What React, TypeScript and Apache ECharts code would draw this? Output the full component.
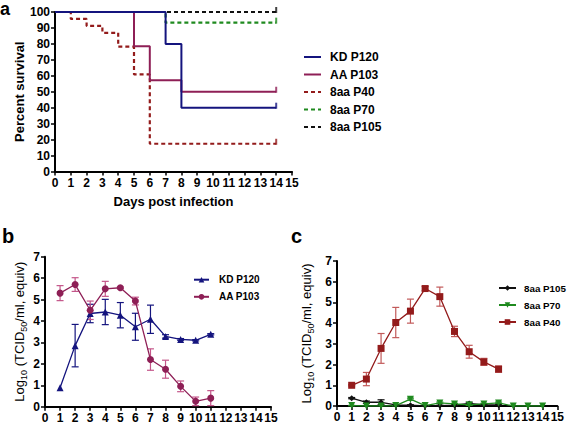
import React, { useEffect, useRef } from "react";
import * as echarts from "echarts";

const FONT = '"Liberation Sans", Arial, Helvetica, sans-serif';

// ---------- Panel a: survival ----------
const survKD: [number, number][] = [[0, 100], [7, 80], [8, 40], [14, 40]];
const survAA: [number, number][] = [[0, 100], [5, 78.57], [6, 57.14], [8, 50], [14, 50]];
const survP40: [number, number][] = [[0, 100], [1, 95.65], [2, 91.3], [3, 86.96], [4, 78.26], [5, 60.87], [6, 17.39], [14, 17.39]];
const survP70: [number, number][] = [[0, 100], [7, 93.33], [14, 93.33]];
const survP105: [number, number][] = [[0, 100], [14, 100]];

// ---------- Panel b ----------
const daysB = [1, 2, 3, 4, 5, 6, 7, 8, 9, 10, 11];
const kdMean = [0.88, 2.85, 4.35, 4.42, 4.27, 3.73, 4.08, 3.28, 3.14, 3.1, 3.38];
const kdSem = [0, 0.99, 0.43, 0.59, 0.59, 0.63, 0.66, 0.08, 0.04, 0.03, 0.03];
const aaMean = [5.3, 5.7, 4.5, 5.5, 5.55, 4.93, 2.2, 1.75, 0.95, 0.25, 0.4];
const aaSem = [0.35, 0.32, 0.43, 0.35, 0.04, 0.18, 0.5, 0.42, 0.25, 0.2, 0.35];

// ---------- Panel c ----------
const daysC40 = [1, 2, 3, 4, 5, 6, 7, 8, 9, 10, 11];
const p40Mean = [1.0, 1.3, 2.78, 4.03, 4.58, 5.67, 5.28, 3.6, 2.62, 2.13, 1.78];
const p40Sem = [0.03, 0.32, 0.72, 0.73, 0.58, 0.1, 0.46, 0.25, 0.31, 0.17, 0.15];
const daysC105 = [1, 2, 3, 4, 5, 6, 7, 8, 9, 10, 11];
const p105Mean = [0.38, 0.18, 0.18, 0.05, 0.04, 0.01, 0.02, 0.04, 0.12, 0.05, 0.05];
const p105Sem = [0.03, 0.06, 0.12, 0.02, 0.02, 0.01, 0.01, 0.02, 0.06, 0.02, 0.02];
const daysC70 = [1, 2, 3, 4, 5, 6, 7, 8, 9, 10, 11, 12, 13, 14];
const p70Mean = [0.02, 0.0, 0.0, 0.02, 0.33, 0.02, 0.15, 0.1, 0.05, 0.1, 0.15, 0.0, 0.0, 0.0];
const p70Sem = [0.01, 0.0, 0.0, 0.01, 0.05, 0.01, 0.04, 0.03, 0.02, 0.03, 0.04, 0.0, 0.0, 0.0];

const C_KD = "#14147e";
const C_AA = "#8e1f56";
const C_AA_ERR = "#c4568a";
const C_P40 = "#931b1b";
const C_P40_ERR = "#c25a5a";
const C_P70 = "#1f8a1f";
const C_P105 = "#111111";

const zip = (xs: number[], ys: number[]) => xs.map((x, i) => [x, ys[i]]);
const errData = (xs: number[], m: number[], e: number[]) =>
  xs.map((x, i) => [x, m[i] - e[i], m[i] + e[i]]).filter((d, i) => e[i] > 0);

function errSeries(name: string, xs: number[], m: number[], e: number[], color: string, gi: number) {
  return {
    type: "custom",
    name,
    xAxisIndex: gi,
    yAxisIndex: gi,
    z: 1,
    data: errData(xs, m, e),
    encode: { x: 0, y: [1, 2] },
    renderItem: (params: any, api: any) => {
      const x = api.value(0);
      const p1 = api.coord([x, api.value(1)]);
      const p2 = api.coord([x, api.value(2)]);
      const w = 3.5;
      const st = { stroke: color, lineWidth: 1.2 };
      return {
        type: "group",
        children: [
          { type: "line", shape: { x1: p1[0], y1: p1[1], x2: p2[0], y2: p2[1] }, style: st },
          { type: "line", shape: { x1: p1[0] - w, y1: p1[1], x2: p1[0] + w, y2: p1[1] }, style: st },
          { type: "line", shape: { x1: p2[0] - w, y1: p2[1], x2: p2[0] + w, y2: p2[1] }, style: st },
        ],
      };
    },
  };
}

function survSeries(name: string, data: [number, number][], color: string, dashed: boolean) {
  return {
    type: "line",
    name,
    xAxisIndex: 0,
    yAxisIndex: 0,
    data,
    step: "end",
    symbol: "none",
    lineStyle: { color, width: dashed ? 2.2 : 2, type: dashed ? [4, 3] : "solid" },
    itemStyle: { color },
    z: 2,
  };
}

function censorSeries(data: [number, number][], color: string) {
  const last = data[data.length - 1];
  return {
    type: "scatter",
    name: "censor",
    xAxisIndex: 0,
    yAxisIndex: 0,
    data: [last],
    symbol: "rect",
    symbolSize: [2, 6],
    symbolOffset: [0, -2],
    itemStyle: { color },
    z: 3,
  };
}

function meanSeries(name: string, xs: number[], m: number[], color: string, symbol: string, size: number, gi: number, rotate = 0) {
  return {
    type: "line",
    name,
    xAxisIndex: gi,
    yAxisIndex: gi,
    data: zip(xs, m),
    symbol,
    symbolSize: size,
    symbolRotate: rotate,
    showAllSymbol: true,
    lineStyle: { color, width: 1.3 },
    itemStyle: { color },
    z: 2,
  };
}

const tickLabel = { color: "#000", fontWeight: "bold", fontSize: 12, fontFamily: FONT };
const axisLine = { show: true, lineStyle: { color: "#000", width: 2 } };
const axisTick = { show: true, inside: false, length: 4, lineStyle: { color: "#000", width: 1.5 } };

function xAx(gi: number, extra: any = {}) {
  return {
    type: "value",
    gridIndex: gi,
    min: 0,
    max: 15,
    interval: 1,
    axisLine,
    axisTick,
    axisLabel: { ...tickLabel, margin: 5 },
    splitLine: { show: false },
    ...extra,
  };
}

function yAx(gi: number, max: number, interval: number, extra: any = {}) {
  return {
    type: "value",
    gridIndex: gi,
    min: 0,
    max,
    interval,
    axisLine,
    axisTick,
    axisLabel: { ...tickLabel, margin: 5 },
    splitLine: { show: false },
    ...extra,
  };
}

const logName = "Log{sub|10} (TCID{sub|50}/ml, equiv)";
const logNameStyle = {
  color: "#000",
  fontSize: 13,
  fontFamily: FONT,
  lineHeight: 18,
  rich: { sub: { fontSize: 9, lineHeight: 10, verticalAlign: "bottom", fontFamily: FONT, color: "#000" } },
};

export default function App() {
  const ref = useRef<HTMLDivElement>(null);
  useEffect(() => {
    if (!ref.current) return;
    const chart = echarts.init(ref.current, undefined, { renderer: "svg" });
    const option: any = {
      animation: false,
      backgroundColor: "#fff",
      grid: [
        { left: 55, top: 12, width: 237, height: 159.5 },
        { left: 45, top: 256.7, width: 226, height: 150 },
        { left: 337, top: 261, width: 223, height: 145 },
      ],
      xAxis: [
        xAx(0, {
          name: "Days post infection",
          nameLocation: "middle",
          nameGap: 23,
          nameTextStyle: { color: "#000", fontWeight: "bold", fontSize: 13, fontFamily: FONT },
        }),
        xAx(1),
        xAx(2),
      ],
      yAxis: [
        yAx(0, 100, 10, {
          name: "Percent survival",
          nameLocation: "middle",
          nameGap: 27,
          nameTextStyle: { color: "#000", fontWeight: "bold", fontSize: 13, fontFamily: FONT },
        }),
        yAx(1, 7, 1, { name: logName, nameLocation: "middle", nameGap: 17, nameTextStyle: logNameStyle }),
        yAx(2, 7, 1, { name: logName, nameLocation: "middle", nameGap: 22, nameTextStyle: logNameStyle }),
      ],
      legend: [
        {
          data: ["KD P120", "AA P103", "8aa P40", "8aa P70", "8aa P105"],
          orient: "vertical",
          left: 298,
          top: 46,
          itemWidth: 17,
          itemHeight: 14,
          itemGap: 5.5,
          selectedMode: false,
          itemStyle: { opacity: 0 },
          textStyle: { color: "#000", fontWeight: "bold", fontSize: 12, fontFamily: FONT, padding: [0, 0, 0, 4] },
        },
        {
          data: ["b:KD P120", "b:AA P103"],
          orient: "vertical",
          left: 188,
          top: 269.7,
          itemWidth: 15,
          itemHeight: 7,
          itemGap: 7.1,
          selectedMode: false,
          formatter: (n: string) => n.replace(/^[bc]:/, ""),
          textStyle: { color: "#000", fontWeight: "bold", fontSize: 10, fontFamily: FONT, padding: [0, 0, 0, 5] },
        },
        {
          data: ["c:8aa P105", "c:8aa P70", "c:8aa P40"],
          orient: "vertical",
          left: 493,
          top: 278,
          itemWidth: 17,
          itemHeight: 7,
          itemGap: 7,
          selectedMode: false,
          formatter: (n: string) => n.replace(/^[bc]:/, ""),
          textStyle: { color: "#000", fontWeight: "bold", fontSize: 9.8, fontFamily: FONT, padding: [0, 0, 0, 3] },
        },
      ],
      graphic: [
        { type: "text", x: 0, y: 8.5, style: { text: "a", fontSize: 18, fontWeight: "bold", fontFamily: FONT, fill: "#000", verticalAlign: "middle" } },
        { type: "text", x: 2, y: 236, style: { text: "b", fontSize: 20, fontWeight: "bold", fontFamily: FONT, fill: "#000", verticalAlign: "middle" } },
        { type: "text", x: 291, y: 236, style: { text: "c", fontSize: 20, fontWeight: "bold", fontFamily: FONT, fill: "#000", verticalAlign: "middle" } },
      ],
      series: [
        survSeries("8aa P105", survP105, C_P105, true),
        survSeries("8aa P70", survP70, C_P70, true),
        survSeries("8aa P40", survP40, C_P40, true),
        survSeries("AA P103", survAA, C_AA, false),
        survSeries("KD P120", survKD, C_KD, false),
        censorSeries(survP105, C_P105),
        censorSeries(survP70, C_P70),
        censorSeries(survP40, C_P40),
        censorSeries(survAA, C_AA),
        censorSeries(survKD, C_KD),

        errSeries("errKD", daysB, kdMean, kdSem, C_KD, 1),
        errSeries("errAA", daysB, aaMean, aaSem, C_AA_ERR, 1),
        meanSeries("b:KD P120", daysB, kdMean, C_KD, "triangle", 7, 1),
        meanSeries("b:AA P103", daysB, aaMean, C_AA, "circle", 7, 1),

        errSeries("err105", daysC105, p105Mean, p105Sem, C_P105, 2),
        errSeries("err70", daysC70, p70Mean, p70Sem, C_P70, 2),
        errSeries("err40", daysC40, p40Mean, p40Sem, C_P40_ERR, 2),
        meanSeries("c:8aa P105", daysC105, p105Mean, C_P105, "diamond", 6, 2),
        meanSeries("c:8aa P70", daysC70, p70Mean, C_P70, "triangle", 7, 2, 180),
        meanSeries("c:8aa P40", daysC40, p40Mean, C_P40, "rect", 7, 2),
      ],
    };
    chart.setOption(option);
    return () => chart.dispose();
  }, []);
  return <div ref={ref} style={{ position: "fixed", left: 0, top: 0, width: 567, height: 424, background: "#fff" }} />;
}
